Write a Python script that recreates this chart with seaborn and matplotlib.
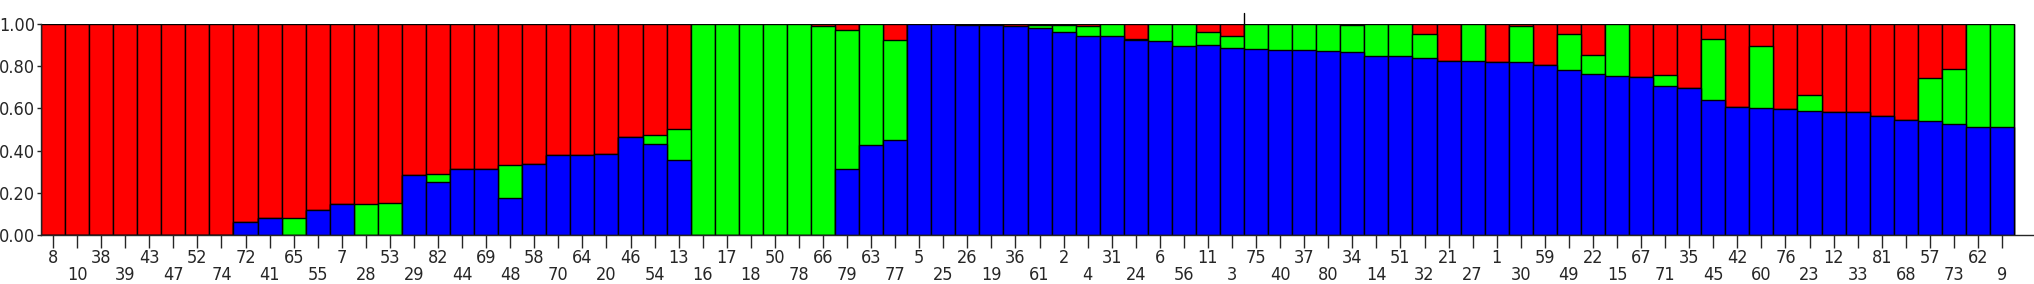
import matplotlib
matplotlib.use("Agg")
import matplotlib.pyplot as plt
import pandas as pd
import seaborn as sns
from matplotlib import font_manager


# Thu tu ca the va ty le thanh phan (blue / green / red)
samples = [8, 10, 38, 39, 43, 47, 52, 74, 72, 41, 65, 55, 7, 28, 53, 29,
           82, 44, 69, 48, 58, 70, 64, 20, 46, 54, 13, 16, 17, 18, 50, 78,
           66, 79, 63, 77, 5, 25, 26, 19, 36, 61, 2, 4, 31, 24, 6, 56,
           11, 3, 75, 40, 37, 80, 34, 14, 51, 32, 21, 27, 1, 30, 59, 49,
           22, 15, 67, 71, 35, 45, 42, 60, 76, 23, 12, 33, 81, 68, 57, 73,
           62, 9]

blue = [0, 0, 0, 0, 0, 0, 0, 0, 0.063, 0.082, 0, 0.119, 0.147, 0, 0, 0.285,
        0.25, 0.312, 0.313, 0.177, 0.335, 0.377, 0.377, 0.384, 0.464, 0.432, 0.356, 0, 0, 0, 0, 0,
        0, 0.312, 0.427, 0.448, 1.0, 1.0, 0.995, 0.995, 0.99, 0.981, 0.962, 0.945, 0.941, 0.926, 0.918, 0.897,
        0.900, 0.885, 0.881, 0.875, 0.875, 0.873, 0.867, 0.846, 0.846, 0.839, 0.826, 0.826, 0.818, 0.818, 0.805, 0.783,
        0.761, 0.755, 0.747, 0.704, 0.696, 0.641, 0.609, 0.604, 0.597, 0.589, 0.585, 0.581, 0.562, 0.546, 0.541, 0.525,
        0.511, 0.511]

green = [0, 0, 0, 0, 0, 0, 0, 0, 0, 0, 0.082, 0, 0, 0.146, 0.153, 0,
         0.04, 0, 0, 0.155, 0, 0, 0, 0, 0, 0.043, 0.147, 1, 1, 1, 1, 1,
         0.992, 0.658, 0.573, 0.478, 0, 0, 0, 0, 0, 0.015, 0.035, 0.045, 0.059, 0.005, 0.082, 0.103,
         0.06, 0.06, 0.119, 0.125, 0.125, 0.127, 0.13, 0.154, 0.154, 0.114, 0, 0.174, 0, 0.174, 0, 0.17,
         0.092, 0.245, 0, 0.054, 0, 0.289, 0, 0.293, 0, 0.076, 0, 0, 0, 0, 0.203, 0.263,
         0.489, 0.489]

red = [1, 1, 1, 1, 1, 1, 1, 1, 0.937, 0.918, 0.918, 0.881, 0.853, 0.854, 0.847, 0.715,
       0.71, 0.688, 0.687, 0.668, 0.665, 0.623, 0.623, 0.616, 0.536, 0.525, 0.497, 0, 0, 0, 0, 0,
       0.008, 0.03, 0, 0.074, 0, 0, 0.005, 0.005, 0.01, 0.004, 0.003, 0.01, 0, 0.069, 0, 0,
       0.04, 0.055, 0, 0, 0, 0, 0.003, 0, 0, 0.047, 0.174, 0, 0.182, 0.008, 0.195, 0.047,
       0.147, 0, 0.253, 0.242, 0.304, 0.07, 0.391, 0.103, 0.403, 0.335, 0.415, 0.419, 0.438, 0.454, 0.256, 0.212,
       0, 0]

y_ticks = [0.0, 0.2, 0.4, 0.6, 0.8, 1.0]
y_tick_labels = ["0.00", "0.20", "0.40", "0.60", "0.80", "1.00"]


sns.set_style("ticks")
fonts = font_manager.fontManager.ttflist
names = {f.name for f in fonts}
label_size = 13
if "Liberation Sans Narrow" in names:
    plt.rcParams["font.family"] = ["Liberation Sans Narrow", "DejaVu Sans"]
elif any(f.name == "DejaVu Sans" and "condensed" in str(f.stretch) for f in fonts):
    plt.rcParams["font.family"] = ["DejaVu Sans"]
    plt.rcParams["font.stretch"] = "condensed"
else:
    plt.rcParams["font.family"] = ["DejaVu Sans"]
    label_size = 11

df = pd.DataFrame({"sample": [str(s) for s in samples],
                   "blue": blue, "green": green, "red": red})
df["blue_green"] = df["blue"] + df["green"]
df["total"] = df["blue_green"] + df["red"]
order = df["sample"].tolist()

W, H = 2034, 284
fig = plt.figure(figsize=(W / 100, H / 100), dpi=100)
ax = fig.add_axes([41 / W, 49 / H, 1 - 41 / W, 211 / H])

# ve chong: tong (do) -> xanh la -> xanh duong
for col, color in [("total", "#ff0000"), ("blue_green", "#00ff00"), ("blue", "#0000ff")]:
    sns.barplot(data=df, x="sample", y=col, order=order, color=color,
                saturation=1, width=1.0, edgecolor="black", linewidth=1.0,
                errorbar=None, ax=ax)

ax.set_xlim(-0.5, 82.33)
ax.set_ylim(0, 1)
ax.set_xlabel("")
ax.set_ylabel("")

ax.set_xticks(range(len(order)))
ax.set_xticklabels([s if i % 2 == 0 else "\n" + s for i, s in enumerate(order)],
                   linespacing=0.95)
ax.set_yticks(y_ticks)
ax.set_yticklabels(y_tick_labels)
ax.tick_params(axis="x", length=9, width=1, pad=1, labelsize=label_size)
ax.tick_params(axis="y", length=3, width=1, pad=1, labelsize=label_size)

for side in ["top", "right"]:
    ax.spines[side].set_visible(False)
ax.spines["left"].set_linewidth(1)
ax.spines["bottom"].set_linewidth(1)

# vach nho phia tren giua hai nhom
ax.plot([49.5, 49.5], [1.0, 1.05], color="black", lw=1, clip_on=False)

fig.savefig("out.png", dpi=100)
